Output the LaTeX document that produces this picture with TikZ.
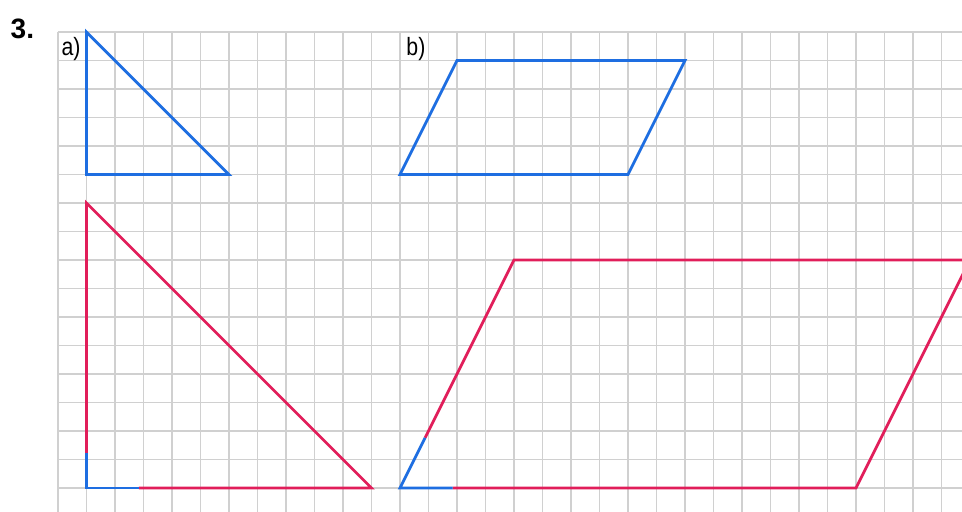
\documentclass[tikz,border=0pt]{standalone}
\usepackage{fontspec}
\setmainfont{Liberation Sans}
\newfontfamily\narrowfont[FakeStretch=0.85]{Liberation Sans}
\definecolor{shapeblue}{RGB}{30,110,225}
\definecolor{shapered}{RGB}{225,30,90}
\definecolor{gridgray}{RGB}{208,208,208}
\begin{document}
\begin{tikzpicture}[x=0.5cm,y=0.5cm,
  gridline/.style={draw=gridgray,line width=0.75pt},
  blueline/.style={draw=shapeblue,line width=1.4pt,line join=miter},
  redline/.style={draw=shapered,line width=1.4pt,line join=miter},
  lbl/.style={font=\narrowfont\fontsize{12.5pt}{14pt}\selectfont,inner sep=0pt}]
\useasboundingbox (-2.035,1.123) rectangle (31.72,-16.807);
\clip (-2.035,1.123) rectangle (31.72,-16.807);
% grid
\foreach \k in {0,...,31} \draw[gridline] (\k,0) -- (\k,-16.9);
\foreach \j in {0,...,16} \draw[gridline] (0,-\j) -- (31.8,-\j);
% title
\node[font=\bfseries\fontsize{14pt}{16pt}\selectfont,inner sep=0pt] (num) at (-1.25,0.1) {3.};
\node[lbl] (la) at (0.46,-0.6) {a)};
\node[lbl] (lb) at (12.56,-0.58) {b)};
% small triangle
\coordinate (A1) at (1,0);
\coordinate (A2) at (1,-5);
\coordinate (A3) at (6,-5);
\draw[blueline] (A1) -- (A2) -- (A3) -- cycle;
% large triangle
\coordinate (B1) at (1,-6);
\coordinate (B2) at (1,-16);
\coordinate (B3) at (11,-16);
\coordinate (Bv) at (1,-14.77);
\coordinate (Bh) at (2.84,-16);
\draw[redline] (Bv) -- (B1) -- (B3) -- (Bh);
\draw[blueline] (Bv) -- (B2) -- (Bh);
% small parallelogram
\coordinate (C1) at (12,-5);
\coordinate (C2) at (20,-5);
\coordinate (C3) at (22,-1);
\coordinate (C4) at (14,-1);
\draw[blueline] (C1) -- (C2) -- (C3) -- (C4) -- cycle;
% large parallelogram
\coordinate (D1) at (12,-16);
\coordinate (D2) at (28,-16);
\coordinate (D3) at (32,-8);
\coordinate (D4) at (16,-8);
\coordinate (Ds) at (12.88,-14.24);
\coordinate (Dh) at (13.85,-16);
\draw[redline] (Ds) -- (D4) -- (D3) -- (D2) -- (Dh);
\draw[blueline] (Ds) -- (D1) -- (Dh);
\end{tikzpicture}
\end{document}
